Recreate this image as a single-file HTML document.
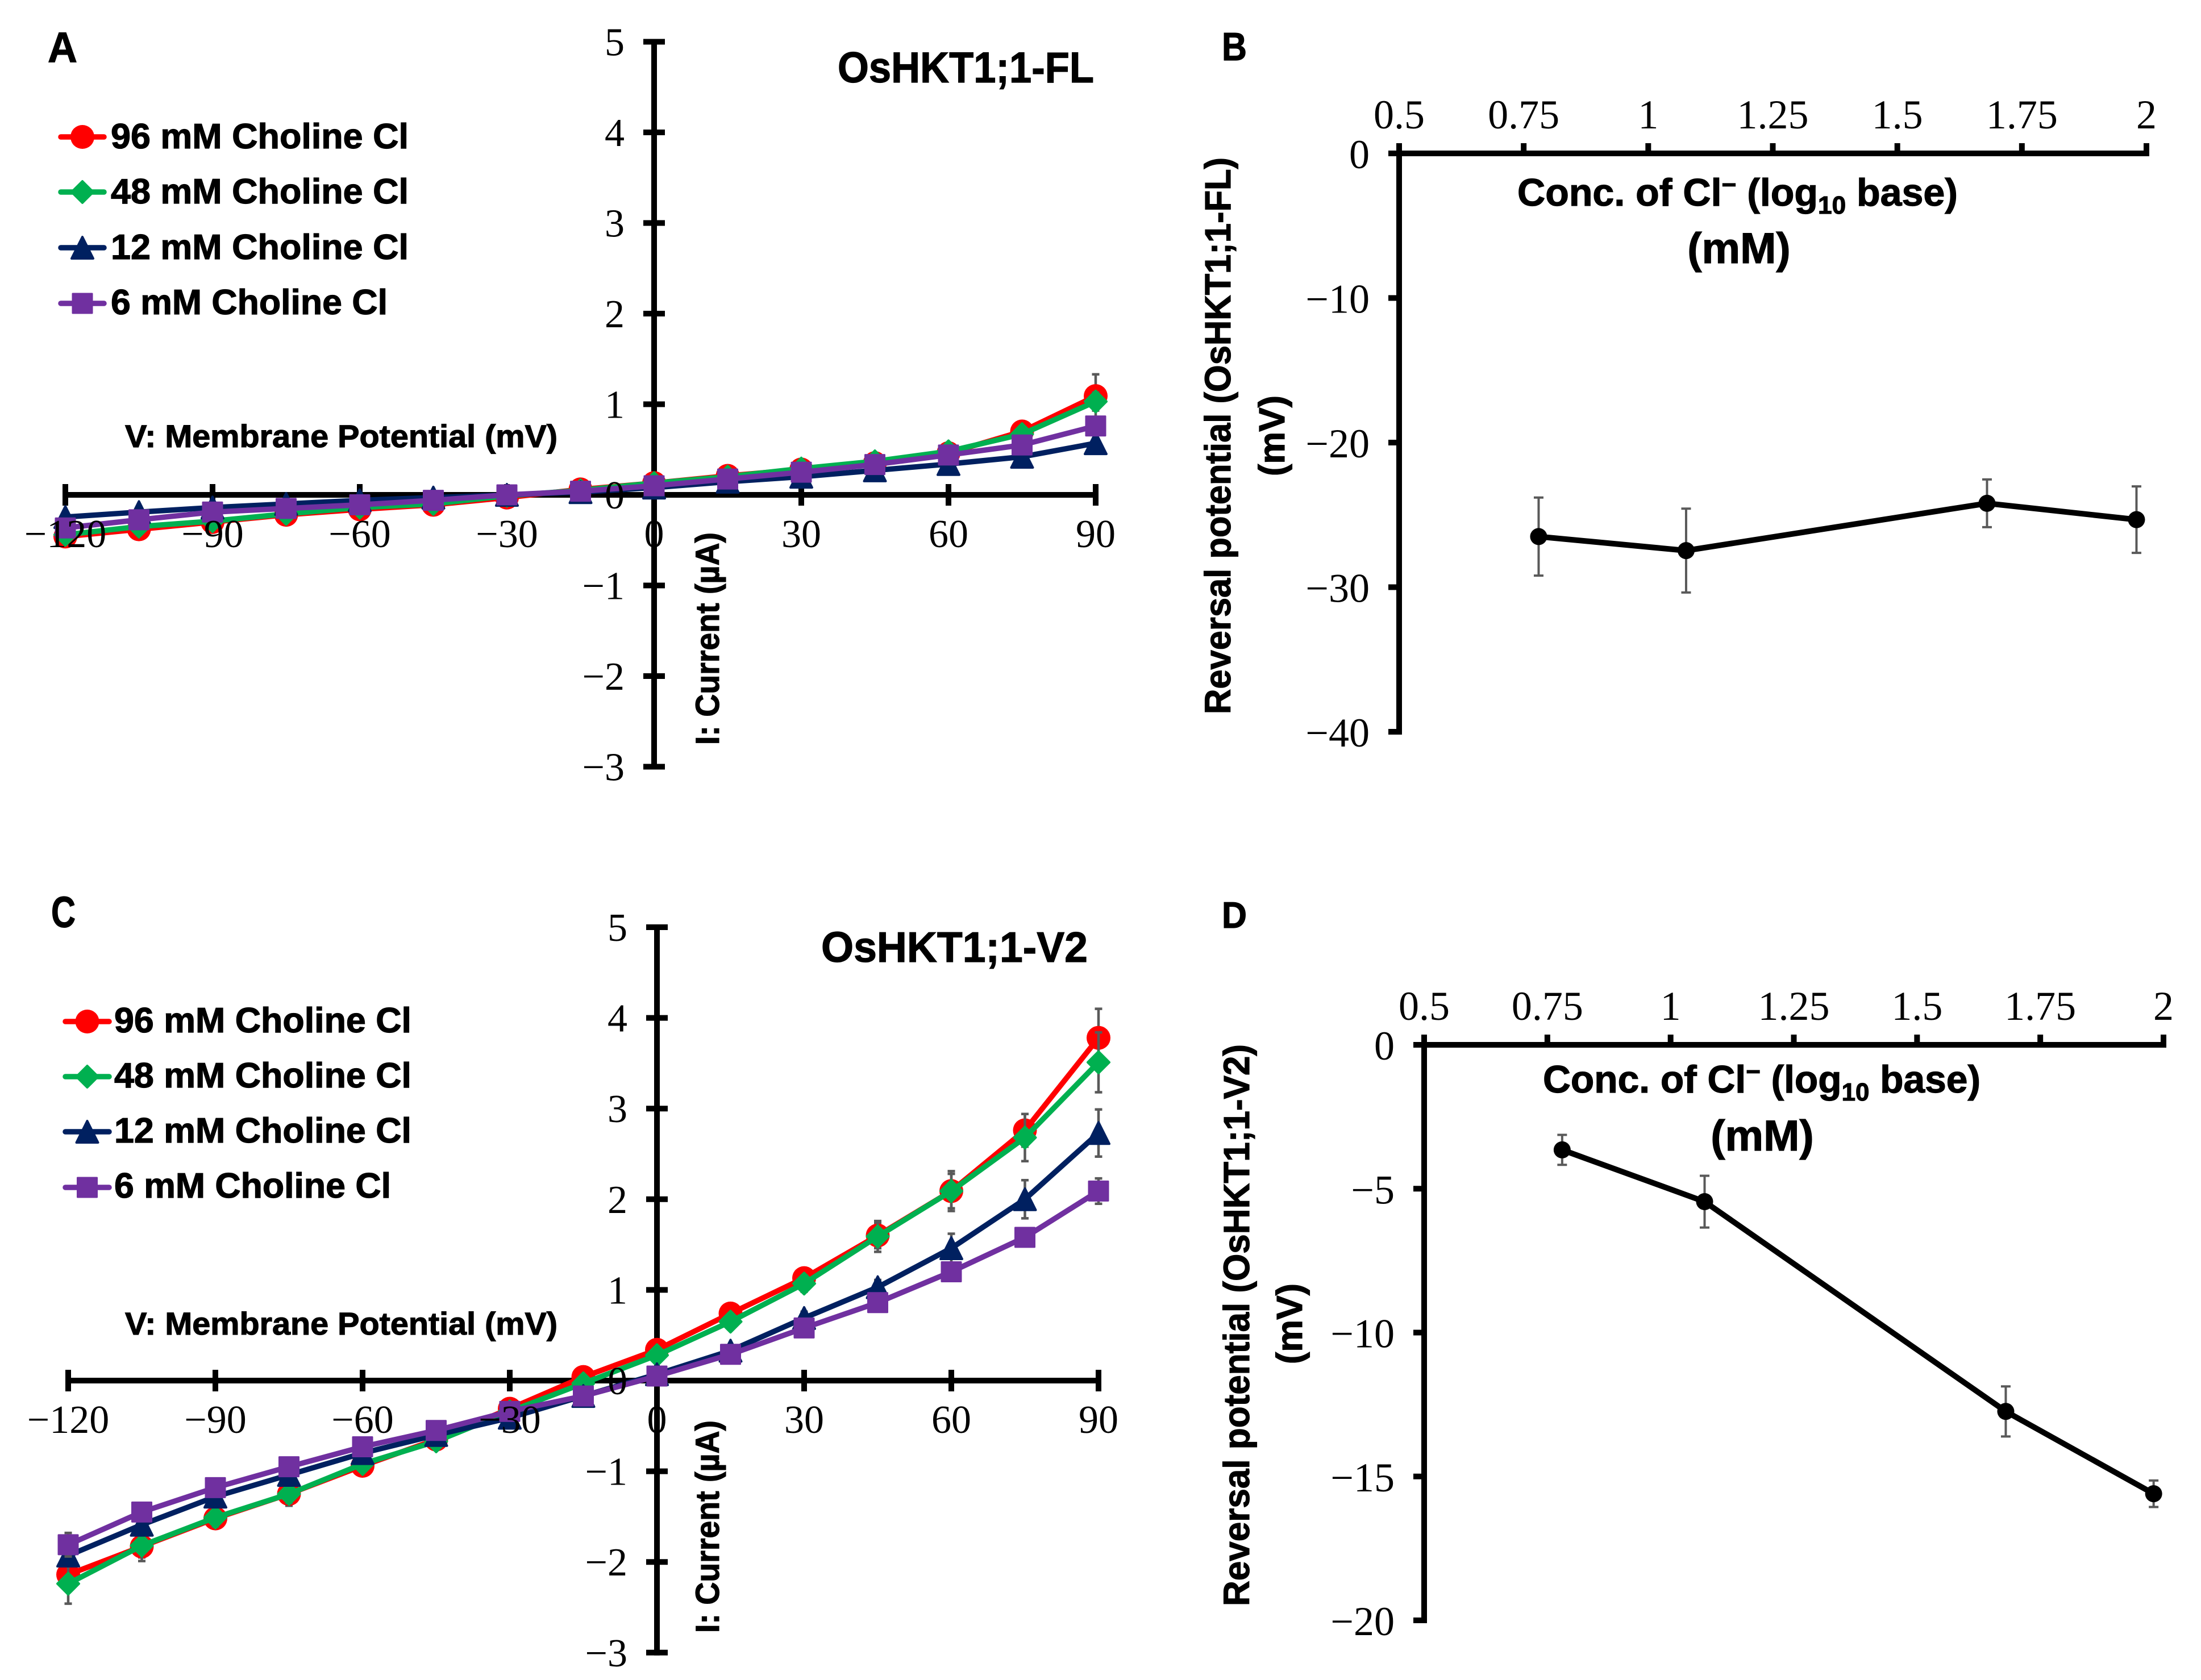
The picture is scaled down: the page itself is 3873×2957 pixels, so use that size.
<!DOCTYPE html>
<html lang="en">
<head>
<meta charset="utf-8">
<title>OsHKT1;1 reversal potential charts</title>
<style>
html,body{margin:0;padding:0;background:#fff;}
svg{display:block;}
.b{font-family:"Liberation Sans",sans-serif;font-weight:700;fill:#000;stroke:#000;stroke-width:1.2px;}
.t{font-family:"Liberation Serif",serif;fill:#000;}
</style>
</head>
<body>
<svg id="figure" xmlns="http://www.w3.org/2000/svg" width="3873" height="2957" viewBox="0 0 3873 2957">
<rect x="0" y="0" width="3873" height="2957" fill="#fff"/>
<g id="plots"></g>

<text class="b" x="84" y="109" font-size="75" textLength="52" lengthAdjust="spacingAndGlyphs">A</text>
<text class="b" x="2150" y="106" font-size="70" textLength="44" lengthAdjust="spacingAndGlyphs">B</text>
<text class="b" x="90" y="1632" font-size="77" textLength="43" lengthAdjust="spacingAndGlyphs">C</text>
<text class="b" x="2150" y="1633" font-size="65" textLength="44" lengthAdjust="spacingAndGlyphs">D</text>

<text class="b" x="1474" y="145" font-size="76" textLength="451" lengthAdjust="spacingAndGlyphs">OsHKT1;1-FL</text>
<text class="b" x="1445" y="1693" font-size="75" textLength="469" lengthAdjust="spacingAndGlyphs">OsHKT1;1-V2</text>

<text class="b" x="220" y="787" font-size="56" textLength="761" lengthAdjust="spacingAndGlyphs">V: Membrane Potential (mV)</text>
<text class="b" x="220" y="2349" font-size="56" textLength="761" lengthAdjust="spacingAndGlyphs">V: Membrane Potential (mV)</text>

<text class="b" transform="translate(1265 1311) rotate(-90)" x="0" y="0" font-size="58" textLength="374" lengthAdjust="spacingAndGlyphs">I: Current (µA)</text>
<text class="b" transform="translate(1265 2874) rotate(-90)" x="0" y="0" font-size="58" textLength="374" lengthAdjust="spacingAndGlyphs">I: Current (µA)</text>

<text class="b" x="2670" y="362" font-size="68" textLength="775" lengthAdjust="spacingAndGlyphs">Conc. of Cl<tspan font-size="44" dy="-22">−</tspan><tspan dy="22"> (log</tspan><tspan font-size="44" dy="14">10</tspan><tspan dy="-14"> base)</tspan></text>
<text class="b" x="3060" y="463" font-size="76" text-anchor="middle">(mM)</text>
<text class="b" x="2715" y="1923" font-size="68" textLength="770" lengthAdjust="spacingAndGlyphs">Conc. of Cl<tspan font-size="44" dy="-22">−</tspan><tspan dy="22"> (log</tspan><tspan font-size="44" dy="14">10</tspan><tspan dy="-14"> base)</tspan></text>
<text class="b" x="3101" y="2025" font-size="76" text-anchor="middle">(mM)</text>

<text class="b" transform="translate(2165 1257) rotate(-90)" x="0" y="0" font-size="64" textLength="980" lengthAdjust="spacingAndGlyphs">Reversal potential (OsHKT1;1-FL)</text>
<text class="b" transform="translate(2260 767) rotate(-90)" x="0" y="0" font-size="64" text-anchor="middle">(mV)</text>
<text class="b" transform="translate(2198 2827) rotate(-90)" x="0" y="0" font-size="64" textLength="989" lengthAdjust="spacingAndGlyphs">Reversal potential (OsHKT1;1-V2)</text>
<text class="b" transform="translate(2291 2330) rotate(-90)" x="0" y="0" font-size="64" text-anchor="middle">(mV)</text>

<g id="legend-a">
<text class="b" x="195" y="261" font-size="62" textLength="524" lengthAdjust="spacingAndGlyphs">96 mM Choline Cl</text>
<text class="b" x="195" y="358" font-size="62" textLength="524" lengthAdjust="spacingAndGlyphs">48 mM Choline Cl</text>
<text class="b" x="195" y="456" font-size="62" textLength="524" lengthAdjust="spacingAndGlyphs">12 mM Choline Cl</text>
<text class="b" x="195" y="553" font-size="62" textLength="487" lengthAdjust="spacingAndGlyphs">6 mM Choline Cl</text>
</g>
<g id="legend-c">
<text class="b" x="201" y="1817" font-size="62" textLength="523" lengthAdjust="spacingAndGlyphs">96 mM Choline Cl</text>
<text class="b" x="201" y="1914" font-size="62" textLength="523" lengthAdjust="spacingAndGlyphs">48 mM Choline Cl</text>
<text class="b" x="201" y="2011" font-size="62" textLength="523" lengthAdjust="spacingAndGlyphs">12 mM Choline Cl</text>
<text class="b" x="201" y="2108" font-size="62" textLength="487" lengthAdjust="spacingAndGlyphs">6 mM Choline Cl</text>
</g>
</svg>

<script>
// ---------- data: I-V panels ----------
const voltages = [-120,-105,-90,-75,-60,-45,-30,-15,0,15,30,45,60,75,90];
const ivXTicks = [-120,-90,-60,-30,0,30,60,90];
const ivYTicks = [5,4,3,2,1,0,-1,-2,-3];

const flCurrent96 = [-0.46,-0.38,-0.30,-0.22,-0.16,-0.11,-0.03,0.06,0.13,0.21,0.28,0.35,0.46,0.70,1.09];
const flCurrent48 = [-0.44,-0.35,-0.29,-0.21,-0.14,-0.10,-0.01,0.05,0.13,0.20,0.29,0.37,0.48,0.67,1.03];
const flCurrent12 = [-0.245,-0.19,-0.14,-0.10,-0.06,-0.03,0.00,0.03,0.08,0.145,0.20,0.27,0.34,0.42,0.57];
const flCurrent6  = [-0.365,-0.275,-0.19,-0.15,-0.11,-0.06,0.00,0.04,0.10,0.175,0.25,0.335,0.44,0.55,0.76];
const flError96 = [0.02,0.02,0.02,0.02,0.02,0.02,0.01,0.01,0.02,0.02,0.03,0.04,0.05,0.07,0.24];
const flError48 = [0.02,0.02,0.02,0.02,0.02,0.02,0.01,0.01,0.02,0.02,0.03,0.04,0.07,0.05,0.10];
const flError12 = [0.02,0.02,0.02,0.02,0.01,0.01,0.01,0.01,0.01,0.02,0.02,0.02,0.03,0.03,0.05];
const flError6  = [0.02,0.02,0.02,0.02,0.01,0.01,0.01,0.01,0.01,0.02,0.02,0.02,0.03,0.03,0.06];

const v2Current96 = [-2.14,-1.83,-1.52,-1.25,-0.94,-0.65,-0.31,0.04,0.34,0.74,1.13,1.60,2.09,2.76,3.78];
const v2Current48 = [-2.24,-1.82,-1.51,-1.25,-0.92,-0.67,-0.34,-0.03,0.28,0.65,1.07,1.59,2.09,2.68,3.51];
const v2Current12 = [-1.93,-1.59,-1.28,-1.04,-0.80,-0.60,-0.41,-0.17,0.07,0.33,0.69,1.03,1.46,2.00,2.73];
const v2Current6  = [-1.81,-1.45,-1.18,-0.95,-0.73,-0.55,-0.34,-0.17,0.05,0.29,0.58,0.86,1.20,1.58,2.09];
const v2Error96 = [0.10,0.12,0.10,0.13,0.08,0.06,0.04,0.03,0.05,0.06,0.08,0.14,0.19,0.18,0.32];
const v2Error48 = [0.22,0.17,0.10,0.10,0.08,0.06,0.04,0.03,0.05,0.06,0.09,0.17,0.22,0.26,0.33];
const v2Error12 = [0.10,0.08,0.08,0.07,0.05,0.04,0.03,0.03,0.03,0.05,0.07,0.08,0.16,0.21,0.26];
const v2Error6  = [0.13,0.08,0.07,0.06,0.04,0.04,0.03,0.03,0.03,0.04,0.05,0.06,0.06,0.08,0.14];

// ---------- data: reversal potential panels ----------
const logConcFl = [0.78,1.076,1.68,1.98];
const logConcV2 = [0.78,1.069,1.68,1.98];
const revXTicks = [0.5,0.75,1,1.25,1.5,1.75,2];
const revXTickLabels = ['0.5','0.75','1','1.25','1.5','1.75','2'];
const revFl = [-26.5,-27.47,-24.2,-25.33];
const revFlErr = [2.7,2.9,1.65,2.3];
const revFlYTicks = [0,-10,-20,-30,-40];
const revV2 = [-3.65,-5.45,-12.74,-15.6];
const revV2Err = [0.52,0.9,0.87,0.46];
const revV2YTicks = [0,-5,-10,-15,-20];

// ---------- helpers ----------
const NS = 'http://www.w3.org/2000/svg';
const plots = document.getElementById('plots');
function mk(tag, attrs, parent){
  const el = document.createElementNS(NS, tag);
  for (const k in attrs) el.setAttribute(k, attrs[k]);
  parent.appendChild(el);
  return el;
}
function linear(d0, d1, r0, r1){ return v => r0 + (v - d0) * (r1 - r0) / (d1 - d0); }
function fmt(v){ return v < 0 ? '\u2212' + Math.abs(v) : String(v); }

const COLORS = {s96:'#ff0000', s48:'#00b050', s12:'#002060', s6:'#7030a0'};
const GREY = '#595959';

function marker(kind, cx, cy, color, parent){
  let el;
  if (kind === 'circle') {
    el = mk('circle', {cx:cx, cy:cy, r:21, fill:color}, parent);
  } else if (kind === 'diamond') {
    el = mk('polygon', {points:[[cx,cy-19],[cx+19,cy],[cx,cy+19],[cx-19,cy]].join(' '), fill:color, stroke:color, 'stroke-width':4, 'stroke-linejoin':'round'}, parent);
  } else if (kind === 'triangle') {
    el = mk('polygon', {points:[[cx,cy-19],[cx+19,cy+19],[cx-19,cy+19]].join(' '), fill:color, stroke:color, 'stroke-width':4, 'stroke-linejoin':'round'}, parent);
  } else {
    el = mk('rect', {x:cx-17, y:cy-17, width:34, height:34, fill:color, stroke:color, 'stroke-width':3, 'stroke-linejoin':'round'}, parent);
  }
  return el;
}

function errorBar(px, top, bottom, capW, w, parent){
  const g = mk('path', {d:`M${px-capW/2} ${top}H${px+capW/2}M${px} ${top}V${bottom}M${px-capW/2} ${bottom}H${px+capW/2}`, stroke:GREY, 'stroke-width':w, fill:'none'}, parent);
  return g;
}

// ---------- I-V panel ----------
function drawIV(id, geo, series){
  const g = mk('g', {}, plots);
  
  
  const X = linear(-120, 90, geo.x0, geo.x1);
  const Y = linear(0, 1, geo.y0, geo.y0 - geo.unit);

  const xAxis = mk('line', {x1:X(-120), x2:X(90), y1:Y(0), y2:Y(0), stroke:'#000', 'stroke-width':10}, g);
  
  
  const yAxis = mk('line', {x1:X(0), x2:X(0), y1:Y(5)-5, y2:Y(-3)+5, stroke:'#000', 'stroke-width':10}, g);
  
  

  ivXTicks.forEach(v => {
    const t = mk('line', {x1:X(v), x2:X(v), y1:Y(0)-19, y2:Y(0)+19, stroke:'#000', 'stroke-width':10}, g);
    
    
  });
  ivYTicks.forEach(v => {
    const t = mk('line', {x1:X(0)-19, x2:X(0)+19, y1:Y(v), y2:Y(v), stroke:'#000', 'stroke-width':10}, g);
    
    
  });

  series.forEach(s => {
    const sg = mk('g', {}, g);
    
    
    voltages.forEach((v, i) => {
      const e = errorBar(X(v), Y(s.values[i] + s.err[i]), Y(s.values[i] - s.err[i]), 13, 4.5, sg);
      
      
    });
    const line = mk('polyline', {points: voltages.map((v, i) => X(v) + ',' + Y(s.values[i])).join(' '), fill:'none', stroke:s.color, 'stroke-width':9.5, 'stroke-linejoin':'round'}, sg);
    
    
    voltages.forEach((v, i) => {
      const m = marker(s.kind, X(v), Y(s.values[i]), s.color, sg);
      
      
    });
  });

  // tick labels sit on top of the series, as in the figure
  ivXTicks.forEach(v => {
    const l = mk('text', {x:X(v), y:Y(0)+92, 'font-size':70, 'text-anchor':'middle', class:'t'}, g);
    
    
    l.textContent = fmt(v);
  });
  ivYTicks.forEach(v => {
    const l = mk('text', {x:X(0)-52, y:Y(v)+24, 'font-size':70, 'text-anchor':'end', class:'t'}, g);
    
    
    l.textContent = fmt(v);
  });
}

// ---------- reversal panel ----------
function drawRev(id, geo, yTicks, conc, vals, errs){
  const g = mk('g', {}, plots);
  
  
  const yMin = yTicks[yTicks.length - 1];
  const X = linear(0.5, 2, geo.x0, geo.x1);
  const Y = linear(0, yMin, geo.y0, geo.y1);

  const xAxis = mk('line', {x1:X(0.5)-19, x2:X(2)+5, y1:Y(0), y2:Y(0), stroke:'#000', 'stroke-width':10}, g);
  
  
  const yAxis = mk('line', {x1:X(0.5), x2:X(0.5), y1:Y(0)-18, y2:Y(yMin)+5, stroke:'#000', 'stroke-width':10}, g);
  
  

  revXTicks.forEach((v, i) => {
    const t = mk('line', {x1:X(v), x2:X(v), y1:Y(0)-18, y2:Y(0), stroke:'#000', 'stroke-width':10}, g);
    
    
    const l = mk('text', {x:X(v), y:Y(0)-44, 'font-size':72, 'text-anchor':'middle', class:'t'}, g);
    
    
    l.textContent = revXTickLabels[i];
  });
  yTicks.forEach(v => {
    const t = mk('line', {x1:X(0.5)-19, x2:X(0.5), y1:Y(v), y2:Y(v), stroke:'#000', 'stroke-width':10}, g);
    
    
    const l = mk('text', {x:X(0.5)-52, y:Y(v)+26, 'font-size':72, 'text-anchor':'end', class:'t'}, g);
    
    
    l.textContent = fmt(v);
  });

  conc.forEach((c, i) => {
    const e = errorBar(X(c), Y(vals[i] + errs[i]), Y(vals[i] - errs[i]), 17, 4, g);
    
    
  });
  const line = mk('polyline', {points: conc.map((c, i) => X(c) + ',' + Y(vals[i])).join(' '), fill:'none', stroke:'#000', 'stroke-width':10}, g);
  
  
  conc.forEach((c, i) => {
    const m = mk('circle', {cx:X(c), cy:Y(vals[i]), r:15, fill:'#000'}, g);
    
    
  });
}

// ---------- legends ----------
function drawLegend(parentId, x1, x2, ys){
  const parent = document.getElementById(parentId);
  const entries = [['96',COLORS.s96,'circle'],['48',COLORS.s48,'diamond'],['12',COLORS.s12,'triangle'],['6',COLORS.s6,'square']];
  entries.forEach((en, i) => {
    const l = mk('line', {x1:x1+5, x2:x2-5, y1:ys[i], y2:ys[i], stroke:en[1], 'stroke-width':9.5, 'stroke-linecap':'round'}, parent);
    
    
    const m = marker(en[2], (x1 + x2) / 2, ys[i], en[1], parent);
    
    
  });
}

drawIV('panel-a', {x0:115, x1:1928, y0:871, unit:159.5}, [
  {label:'96mm', color:COLORS.s96, kind:'circle',   values:flCurrent96, err:flError96},
  {label:'48mm', color:COLORS.s48, kind:'diamond',  values:flCurrent48, err:flError48},
  {label:'12mm', color:COLORS.s12, kind:'triangle', values:flCurrent12, err:flError12},
  {label:'6mm',  color:COLORS.s6,  kind:'square',   values:flCurrent6,  err:flError6}
]);
drawIV('panel-c', {x0:120, x1:1933, y0:2430, unit:159.6}, [
  {label:'96mm', color:COLORS.s96, kind:'circle',   values:v2Current96, err:v2Error96},
  {label:'48mm', color:COLORS.s48, kind:'diamond',  values:v2Current48, err:v2Error48},
  {label:'12mm', color:COLORS.s12, kind:'triangle', values:v2Current12, err:v2Error12},
  {label:'6mm',  color:COLORS.s6,  kind:'square',   values:v2Current6,  err:v2Error6}
]);
drawRev('panel-b', {x0:2462, x1:3777, y0:270, y1:1288}, revFlYTicks, logConcFl, revFl, revFlErr);
drawRev('panel-d', {x0:2506, x1:3807, y0:1839, y1:2852}, revV2YTicks, logConcV2, revV2, revV2Err);
drawLegend('legend-a', 102, 188, [241,338,436,534]);
drawLegend('legend-c', 110, 197, [1798,1895,1992,2090]);
</script>
</body>
</html>
